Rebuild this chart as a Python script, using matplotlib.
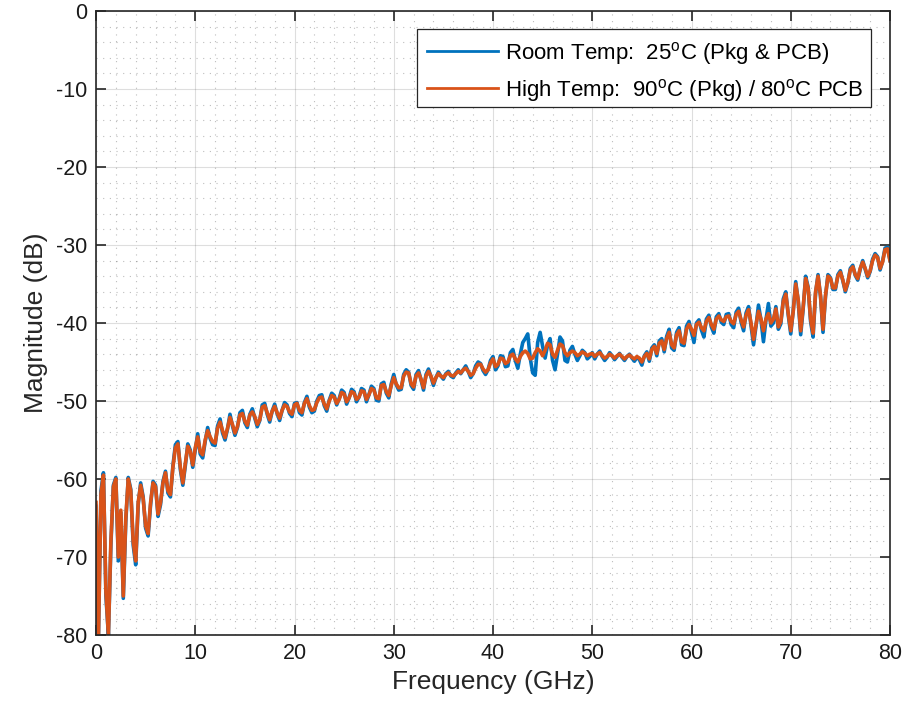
import numpy as np
import matplotlib
matplotlib.use("Agg")
import matplotlib.pyplot as plt
from matplotlib.ticker import MultipleLocator
from matplotlib.patches import Rectangle

plt.rcParams['font.family'] = ['Liberation Sans', 'DejaVu Sans']
plt.rcParams['mathtext.fontset'] = 'custom'
plt.rcParams['mathtext.rm'] = 'Liberation Sans'
plt.rcParams['axes.unicode_minus'] = False

# Frequency samples (GHz): 0 .. 80 in 0.25 GHz steps
freq_start, freq_stop = 0.0, 80.0

# Room temperature magnitude (dB)
mag_room = [
    # 0 - 9.75 GHz
    -63.5, -80, -61.5, -59.2, -75, -80, -68.5, -60.8, -59.8, -70.5,
    -64.3, -75.3, -65.5, -59.8, -61.3, -68.5, -71, -63.3, -60.5, -62.3,
    -66.3, -67.3, -63.3, -60.3, -60.8, -64.8, -63.3, -60.3, -59, -61.8,
    -62.3, -58.3, -55.6, -55.2, -58.8, -60.8, -58.3, -55.5, -56.3, -58.5,
    # 10 - 19.75 GHz
    -56.3, -54.2, -56.8, -57.3, -55.2, -53.4, -54.8, -55.6, -55.7, -53.2,
    -52.3, -54.1, -55.0, -53.6, -51.7, -53.2, -54.4, -53.4, -51.5, -51.2,
    -52.8, -53.4, -51.7, -51.0, -52.2, -53.3, -52.5, -50.5, -50.3, -51.7,
    -52.7, -51.3, -50.4, -51.6, -52.5, -51.2, -50.2, -50.5, -51.6, -52.0,
    # 20 - 29.75 GHz
    -50.3, -50.2, -51.5, -51.8, -50.2, -49.4, -50.8, -51.5, -51.3, -50.0,
    -49.3, -49.2, -50.6, -51.3, -49.9, -49.0, -49.3, -50.5, -49.7, -48.6,
    -48.9, -50.4, -49.6, -48.5, -48.8, -50.1, -49.5, -48.4, -48.6, -50.1,
    -49.2, -48.1, -48.4, -49.9, -50.0, -47.8, -47.6, -49.0, -49.6, -47.8,
    # 30 - 39.75 GHz
    -46.6, -47.9, -48.6, -48.5, -46.6, -46.0, -46.3, -48.0, -48.5, -46.6,
    -46.1, -47.3, -48.6, -46.6, -45.9, -46.9, -48.0, -47.0, -46.3, -46.8,
    -47.2, -46.5, -46.2, -46.8, -47.0, -46.4, -46.0, -46.5, -46.0, -45.5,
    -46.2, -47.0, -46.5, -45.5, -45.0, -45.2, -46.1, -46.6, -46.0, -44.8,
    # 40 - 49.75 GHz
    -44.3, -46.0, -45.5, -44.2, -44.3, -45.6, -45.5, -43.8, -43.4, -44.8,
    -45.8, -44.0, -42.5, -42.0, -41.4, -44.5, -46.4, -46.7, -42.5, -41.2,
    -43.0, -44.5, -42.8, -42.0, -44.8, -46.0, -44.0, -41.8, -42.3, -44.8,
    -45.0, -43.5, -43.0, -44.0, -44.8, -44.2, -43.5, -43.8, -44.6, -44.3,
    # 50 - 59.75 GHz
    -43.8, -44.6, -44.0, -43.6, -44.3, -44.8, -44.4, -43.8, -44.2, -44.7,
    -44.3, -43.9, -44.4, -44.8, -44.3, -44.0, -44.5, -44.9, -44.4, -44.7,
    -45.4, -44.2, -43.7, -44.9, -43.2, -42.8, -44.2, -42.3, -42.0, -43.7,
    -41.7, -40.8, -43.2, -43.5, -41.2, -40.6, -42.8, -42.9, -40.4, -39.8,
    # 60 - 69.75 GHz
    -41.2, -42.5, -40.0, -39.6, -40.9, -41.8, -39.5, -39.0, -40.5, -41.3,
    -39.2, -38.8, -39.9, -40.2, -38.9, -38.8, -40.2, -40.6, -38.6, -38.1,
    -39.9, -41.0, -38.7, -37.9, -40.3, -42.8, -40.4, -37.7, -39.6, -42.4,
    -39.6, -37.5, -40.4, -40.0, -37.9, -40.8, -40.1, -36.9, -36.0, -39.0,
    # 70 - 80 GHz
    -41.4, -38.4, -34.7, -37.2, -41.5, -38.2, -34.0, -35.4, -39.8, -41.8,
    -36.2, -33.8, -36.6, -41.2, -36.6, -33.8, -34.2, -35.7, -35.7, -33.8,
    -33.3, -34.6, -36.0, -34.9, -33.0, -32.6, -33.9, -34.5, -33.1, -32.0,
    -33.1, -34.2, -33.4, -31.8, -31.1, -31.5, -33.2, -32.1, -30.4, -30.3,
    -32.0,
]

# High temperature magnitude (dB)
mag_hot = [
    # 0 - 9.75 GHz
    -63, -80, -62, -59.5, -74.5, -80, -68, -61, -60, -70,
    -64, -75, -65, -60, -61.5, -68, -70.5, -63, -60.8, -62.5,
    -66, -67, -63, -60.5, -61, -64.5, -63, -60.5, -59.2, -61.5,
    -62, -58.5, -56, -55.5, -58.5, -60.5, -58, -55.8, -56.5, -58.2,
    # 10 - 19.75 GHz
    -56, -54.6, -56.5, -56.9, -55, -53.8, -54.6, -55.2, -55.4, -53.5,
    -52.7, -53.8, -54.7, -53.5, -52.1, -53, -54.1, -53.3, -51.8, -51.6,
    -52.6, -53.1, -51.8, -51.4, -52, -53, -52.4, -50.8, -50.6, -51.5,
    -52.4, -51.3, -50.7, -51.5, -52.2, -51.2, -50.5, -50.7, -51.4, -51.7,
    # 20 - 29.75 GHz
    -50.5, -50.3, -51.2, -51.5, -50.3, -49.7, -50.6, -51.2, -51.1, -50.2,
    -49.6, -49.5, -50.4, -51.0, -50.0, -49.3, -49.5, -50.3, -49.8, -48.9,
    -49.1, -50.1, -49.6, -48.8, -49.0, -49.8, -49.5, -48.7, -48.8, -49.8,
    -49.2, -48.4, -48.6, -49.6, -49.7, -48.0, -47.9, -48.8, -49.3, -48.0,
    # 30 - 39.75 GHz
    -47.0, -47.8, -48.3, -48.3, -46.8, -46.3, -46.4, -47.8, -48.2, -46.8,
    -46.4, -47.2, -48.3, -46.8, -46.2, -46.8, -47.7, -47.0, -46.5, -46.8,
    -47.0, -46.6, -46.4, -46.7, -46.8, -46.5, -46.2, -46.4, -46.0, -45.8,
    -46.2, -46.7, -46.5, -45.8, -45.3, -45.3, -45.9, -46.3, -46.0, -45.1,
    # 40 - 49.75 GHz
    -44.6, -45.6, -45.3, -44.5, -44.6, -45.2, -45.0, -44.2, -44.0, -44.6,
    -45.0, -44.3, -43.8, -43.6, -43.9, -44.6, -44.5, -43.8, -43.3, -43.6,
    -44.2, -43.5, -42.6, -42.8, -44.0, -44.4, -43.5, -42.7, -42.9, -43.8,
    -44.2, -43.8, -43.6, -43.8, -44.2, -44.0, -43.7, -43.9, -44.2, -44.0,
    # 50 - 59.75 GHz
    -43.9, -44.3, -44.0, -43.8, -44.2, -44.5, -44.3, -44.0, -44.2, -44.5,
    -44.2, -44.0, -44.3, -44.6, -44.3, -44.1, -44.4, -44.6, -44.3, -44.5,
    -45.0, -44.3, -43.9, -44.6, -43.4, -43.0, -43.9, -42.6, -42.3, -43.4,
    -42.0, -41.2, -42.8, -43.2, -41.5, -41.0, -42.4, -42.6, -40.8, -40.2,
    # 60 - 69.75 GHz
    -40.8, -41.6, -40.2, -39.9, -40.6, -41.0, -39.8, -39.3, -40.2, -40.8,
    -39.5, -39.1, -39.6, -39.8, -39.2, -39.1, -39.8, -40.1, -38.9, -38.5,
    -39.6, -40.5, -39.0, -38.3, -40.0, -42.1, -40.2, -38.5, -39.5, -41.0,
    -39.5, -38.8, -40.0, -39.5, -38.2, -40.5, -39.8, -37.2, -36.3, -38.8,
    # 70 - 80 GHz
    -41.0, -38.5, -35.0, -37.0, -41.0, -38.0, -34.3, -35.5, -39.5, -41.3,
    -36.0, -34.0, -36.5, -40.8, -36.5, -34.0, -34.3, -35.5, -35.5, -34.0,
    -33.5, -34.5, -35.8, -34.8, -33.2, -32.8, -33.8, -34.3, -33.0, -32.2,
    -33.0, -34.0, -33.3, -32.0, -31.3, -31.6, -33.0, -32.2, -30.6, -30.5,
    -32.0,
]

labels = [r'Room Temp:  25$^{\mathregular{o}}$C (Pkg & PCB)',
          r'High Temp:  90$^{\mathregular{o}}$C (Pkg) / 80$^{\mathregular{o}}$C PCB']
colors = ['#0072BD', '#D95319']

x_ticks = [0, 10, 20, 30, 40, 50, 60, 70, 80]
y_ticks = [-80, -70, -60, -50, -40, -30, -20, -10, 0]

freq_room = np.linspace(freq_start, freq_stop, len(mag_room))
freq_hot = np.linspace(freq_start, freq_stop, len(mag_hot))

fig = plt.figure(figsize=(9.07, 7.15), dpi=100)
ax = fig.add_axes([96/907, 1-635/715, (890-96)/907, (635-11)/715])

ax.plot(freq_room, mag_room, color=colors[0], lw=2.6, label=labels[0], solid_joinstyle='round')
ax.plot(freq_hot, mag_hot, color=colors[1], lw=2.6, label=labels[1], solid_joinstyle='round')

ax.set_xlim(0, 80)
ax.set_ylim(-80, 0)
ax.set_xticks(x_ticks)
ax.set_yticks(y_ticks)
ax.xaxis.set_minor_locator(MultipleLocator(2))
ax.yaxis.set_minor_locator(MultipleLocator(2))
ax.grid(True, which='major', color='#262626', alpha=0.15, lw=0.8, linestyle='-')
ax.grid(True, which='minor', color='#262626', alpha=0.3, lw=0.8, linestyle=(0, (1, 5)))
ax.set_axisbelow(True)

ax.tick_params(which='major', direction='in', length=7, width=1.2, top=True, right=True,
               labelsize=15.5, colors='#262626', labelcolor='#1a1a1a', pad=6)
ax.tick_params(which='minor', length=0, top=True, right=True)
for s in ax.spines.values():
    s.set_color('#262626')
    s.set_linewidth(1.2)

ax.set_xlabel('Frequency (GHz)', fontsize=19, color='#262626', labelpad=4)
ax.set_ylabel('Magnitude (dB)', fontsize=19, color='#262626', labelpad=6)

# legend frame (MATLAB-like, with generous right padding)
box_x0, box_y0 = (417-96)/794, (635-107)/624
box_x1, box_y1 = (871-96)/794, (635-29)/624
ax.add_patch(Rectangle((box_x0, box_y0), box_x1-box_x0, box_y1-box_y0, transform=ax.transAxes,
                       facecolor='white', edgecolor='#262626', lw=0.9, zorder=4, clip_on=False))
leg = ax.legend(loc='upper left', bbox_to_anchor=(box_x0 + 2/794, box_y1 - 3/624), borderaxespad=0,
                fontsize=16, handlelength=3.2, handletextpad=0.3, labelspacing=0.45,
                borderpad=0.35, frameon=False)
leg.set_zorder(5)
for line in leg.get_lines():
    line.set_linewidth(2.0)

fig.savefig('out.png', dpi=100)
